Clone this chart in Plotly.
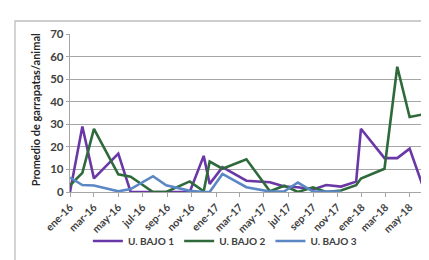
import plotly.graph_objects as go

dates = ["2016-01-01", "2016-02-01", "2016-03-01", "2016-05-01", "2016-06-01",
         "2016-07-27", "2016-08-29", "2016-10-27", "2016-12-01", "2016-12-16",
         "2017-01-17", "2017-03-18", "2017-05-16", "2017-06-21", "2017-07-25",
         "2017-09-01", "2017-10-04", "2017-11-10", "2017-12-18", "2017-12-30",
         "2018-02-27", "2018-03-31", "2018-05-01", "2018-06-01"]

bajo1 = [0, 29, 6, 17, 0, 0, 0, 0, 16, 3.6, 11, 5, 4.3, 2.4, 2.1, 1.1,
         3.1, 2.4, 4.6, 28, 15, 15, 19.2, 3.6]
bajo2 = [2.9, 8.5, 28, 7.8, 6.8, 0, 0, 4.7, 0.3, 13.5, 10.3, 14.5, 0.3, 2.8,
         0, 2.1, 0, 0.7, 3, 6, 10.3, 55.5, 33.2, 34.3]
bajo3 = [6.4, 3.1, 2.9, 0.3, 1.3, 7, 3, 0.5, 0, 0, 8, 2.1, 0.2, 0.3, 4.2,
         0.2, 0.2, 0.2, None, None, None, None, None, None]

series_names = ["U. BAJO 1", "U. BAJO 2", "U. BAJO 3"]
colors = ["#6a37a6", "#2f6a3b", "#5b87c4"]

tick_vals = ["2016-01-01", "2016-03-01", "2016-05-01", "2016-07-01", "2016-09-01",
             "2016-11-01", "2017-01-01", "2017-03-01", "2017-05-01", "2017-07-01",
             "2017-09-01", "2017-11-01", "2018-01-01", "2018-03-01", "2018-05-01"]
tick_text = ["ene-16", "mar-16", "may-16", "jul-16", "sep-16", "nov-16", "ene-17",
             "mar-17", "may-17", "jul-17", "sep-17", "nov-17", "ene-18", "mar-18",
             "may-18"]
y_ticks = [0, 10, 20, 30, 40, 50, 60, 70]

fig = go.Figure()
for name, vals, col in zip(series_names, [bajo1, bajo2, bajo3], colors):
    fig.add_trace(go.Scatter(x=dates, y=vals, name=name, mode="lines",
                             line=dict(color=col, width=2.6),
                             connectgaps=False, cliponaxis=False))

font_fam = "Lato, 'Open Sans', sans-serif"
fig.update_layout(
    width=429, height=260,
    margin=dict(l=62, r=15, t=26, b=70),
    paper_bgcolor="white", plot_bgcolor="white",
    font=dict(family=font_fam, color="#404040"),
    showlegend=True,
    legend=dict(orientation="h", x=0.44, xanchor="center", y=-0.31,
                yanchor="middle", font=dict(size=10, color="#404040", weight="bold"),
                itemwidth=30, tracegroupgap=0, bgcolor="rgba(0,0,0,0)"),
    xaxis=dict(type="date", range=["2016-01-01", "2018-06-01"],
               tickmode="array", tickvals=tick_vals, ticktext=tick_text,
               tickangle=-45,
               tickfont=dict(size=10.5, family=font_fam, color="#404040", weight="bold"),
               showgrid=False, showline=True, linecolor="#a6a6a6", linewidth=1.3,
               ticks="outside", ticklen=4, tickcolor="#a6a6a6", zeroline=False),
    yaxis=dict(range=[0, 70], tickvals=y_ticks,
               tickfont=dict(size=11.5, family=font_fam, color="#404040", weight="bold"),
               showgrid=True, gridcolor="#a6a6a6", gridwidth=1.3,
               showline=True, linecolor="#a6a6a6", linewidth=1.3,
               ticks="outside", ticklen=3, tickcolor="#a6a6a6", zeroline=False),
    shapes=[dict(type="path", xref="paper", yref="paper", layer="above",
                 xsizemode="pixel", ysizemode="pixel", xanchor=0, yanchor=1,
                 path="M -55 -250 L -55 13 L 380 13",
                 line=dict(color="#bdbdbd", width=1.3))],
    annotations=[dict(text="Promedio de garrapatas/animal", textangle=-90,
                      xref="paper", yref="paper", x=0, y=0.52, xshift=-43,
                      showarrow=False,
                      font=dict(size=11, family=font_fam, color="#262626", weight="bold"))],
)

fig.write_html("out.html")
